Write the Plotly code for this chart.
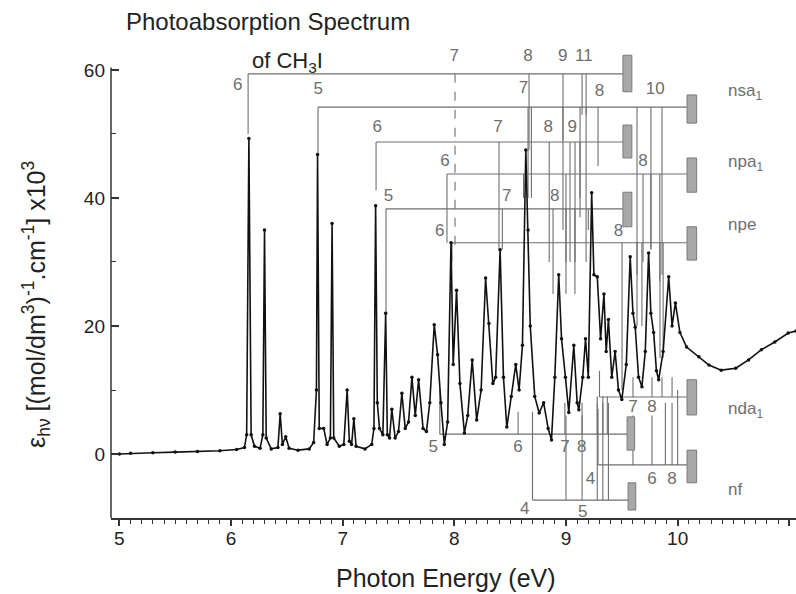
import plotly.graph_objects as go

# ---- absorption spectrum of CH3I (photon energy in eV, epsilon x 10^-3) ----
energy = [
    5.00, 5.10, 5.30, 5.50, 5.70, 5.90, 6.05, 6.12, 6.14, 6.16, 6.18, 6.21, 6.26,
    6.285, 6.30, 6.315, 6.36, 6.42, 6.44, 6.46, 6.49, 6.52, 6.60, 6.70, 6.74,
    6.765, 6.775, 6.79, 6.83, 6.86, 6.89, 6.905, 6.92, 6.97, 7.01, 7.04, 7.06,
    7.08, 7.10, 7.12, 7.20, 7.26, 7.28, 7.295, 7.31, 7.33, 7.36, 7.385, 7.40,
    7.42, 7.44, 7.47, 7.50, 7.53, 7.56, 7.59, 7.62, 7.65, 7.68, 7.72, 7.75,
    7.78, 7.82, 7.85, 7.88, 7.91, 7.94, 7.97, 7.99, 8.02, 8.05, 8.09, 8.12,
    8.16, 8.20, 8.24, 8.28, 8.31, 8.345, 8.37, 8.41, 8.44, 8.47, 8.51, 8.55,
    8.58, 8.61, 8.64, 8.66, 8.68, 8.72, 8.76, 8.80, 8.84, 8.87, 8.90, 8.935,
    8.96, 8.995, 9.025, 9.07, 9.10, 9.115, 9.15, 9.175, 9.20, 9.23, 9.25, 9.28,
    9.31, 9.34, 9.36, 9.38, 9.41, 9.44, 9.47, 9.50, 9.54, 9.575, 9.60, 9.62,
    9.65, 9.68, 9.71, 9.74, 9.76, 9.785, 9.81, 9.83, 9.87, 9.92, 9.95, 9.98,
    10.02, 10.08, 10.19, 10.28, 10.39, 10.52, 10.635, 10.75, 10.87, 10.99, 11.06,
]
epsilon = [
    0.0, 0.1, 0.2, 0.3, 0.4, 0.5, 0.7, 1.0, 3.0, 49.3, 3.0, 1.2, 0.9,
    3.0, 35.0, 2.5, 0.8, 1.0, 6.3, 1.5, 2.7, 0.9, 0.6, 0.8, 1.8,
    10.0, 46.8, 4.0, 4.0, 1.5, 2.5, 36.0, 2.5, 1.2, 1.5, 10.0, 2.0,
    1.5, 5.5, 1.2, 0.8, 1.5, 4.0, 38.8, 8.0, 4.0, 3.0, 22.0, 3.0,
    2.5, 7.0, 2.5, 3.5, 9.5, 4.0, 5.0, 12.0, 6.0, 11.6, 4.0, 3.5,
    8.0, 20.2, 15.5, 8.0, 1.5, 5.0, 33.0, 14.0, 25.6, 11.0, 3.3, 6.0,
    14.7, 5.3, 10.0, 27.5, 20.4, 11.0, 12.0, 31.9, 12.0, 4.2, 9.0, 14.0,
    10.0, 17.0, 47.5, 35.0, 20.0, 9.0, 6.4, 8.0, 4.0, 2.2, 12.0, 28.0,
    18.0, 12.0, 6.5, 17.0, 8.0, 6.9, 12.0, 18.0, 12.0, 40.8, 28.0, 27.7,
    18.0, 25.0, 16.0, 21.0, 12.0, 16.0, 10.0, 8.5, 14.0, 30.8, 22.0, 19.8,
    12.0, 10.5, 16.0, 31.4, 22.0, 19.0, 13.0, 11.6, 16.0, 27.7, 20.0, 23.6,
    19.0, 16.7, 15.2, 13.9, 13.1, 13.4, 14.7, 16.3, 17.5, 18.9, 19.2,
]

# ---- Rydberg series assignment ladders ----
# level: height of the bar; start/end: energy span; ticks: (energy, end of the drop line)
ladder_level = [59.4, 54.2, 48.75, 43.75, 38.3, 33.0, 3.1, 8.9, -7.2, -1.7]
ladder_start = [6.153, 6.779, 7.299, 7.934, 7.388, 7.979, 7.87, 9.30, 8.70, 9.287]
ladder_end = [9.51, 10.084, 9.51, 10.084, 9.51, 10.084, 9.547, 10.084, 9.556, 10.084]
ladder_ticks = [
    [(6.153, 50.0), (8.669, 47.5), (8.973, 49.0), (9.144, 53.0), (9.18, 53.0)],
    [(6.779, 47.0), (8.66, 40.0), (8.69, 40.0), (8.973, 35.0), (9.126, 37.0),
     (9.18, 30.0), (9.287, 45.0), (9.636, 28.0), (9.761, 32.0), (9.86, 28.0)],
    [(7.299, 41.2), (8.40, 32.0), (8.85, 30.0), (9.036, 30.0), (9.081, 30.0), (9.126, 40.0)],
    [(7.934, 33.0), (8.62, 40.0), (9.0, 30.0), (9.69, 30.0), (9.76, 32.0), (9.84, 27.0)],
    [(7.388, 22.0), (8.43, 32.0), (8.884, 25.0), (9.0, 25.0), (9.08, 25.0), (9.20, 35.0)],
    [(7.979, 30.0), (9.502, 10.0), (9.636, 20.0), (9.68, 20.0), (9.842, 15.0), (9.87, 15.0)],
    [(7.87, 10.0), (8.571, 6.6), (8.99, 8.0), (9.144, 8.0), (9.28, 9.0), (9.33, 9.0), (9.37, 9.0)],
    [(9.30, 13.0), (9.60, 12.0), (9.77, 12.0), (9.86, 12.0), (9.95, 12.0)],
    [(8.70, 6.6), (9.0, 6.0), (9.144, 6.0), (9.28, 8.0), (9.33, 8.0), (9.38, 8.0)],
    [(9.287, 7.0), (9.6, 6.0), (9.77, 6.0), (9.89, 8.0), (9.95, 8.0), (10.0, 10.0)],
]
dashed_drop = [(8.006, 59.4, 32.7)]
ladder_labels = [
    [("6", 6.06, 57.6), ("7", 8.0, 62.0), ("8", 8.66, 62.0), ("9", 8.97, 62.0), ("11", 9.16, 62.0)],
    [("5", 6.78, 56.9), ("7", 8.62, 57.0), ("8", 9.30, 56.6), ("10", 9.80, 56.9)],
    [("6", 7.31, 51.0), ("7", 8.39, 51.0), ("8", 8.84, 51.0), ("9", 9.055, 51.0)],
    [("6", 7.916, 45.6), ("8", 9.69, 45.6)],
    [("5", 7.41, 40.2), ("7", 8.47, 40.2), ("8", 8.90, 40.2)],
    [("6", 7.87, 34.7), ("8", 9.47, 34.7)],
    [("5", 7.81, 1.0), ("6", 8.57, 1.0), ("7", 8.99, 1.0), ("8", 9.14, 1.0)],
    [("7", 9.60, 7.2), ("8", 9.77, 7.2)],
    [("4", 8.63, -8.75), ("5", 9.15, -9.2)],
    [("4", 9.22, -4.1), ("6", 9.77, -4.1), ("8", 9.95, -4.1)],
]
# limit markers (energy span, epsilon span)
limit_boxes = [
    (9.51, 9.59, 56.6, 62.3), (10.084, 10.17, 51.7, 56.1),
    (9.51, 9.59, 46.25, 51.4), (10.084, 10.17, 40.9, 46.25),
    (9.51, 9.59, 35.5, 40.9), (10.084, 10.17, 30.3, 35.5),
    (9.547, 9.615, 0.6, 5.8), (10.084, 10.17, 6.1, 11.6),
    (9.556, 9.625, -8.75, -4.5), (10.084, 10.17, -4.5, 0.6),
]
series_names = ["nsa<sub>1</sub>", "npa<sub>1</sub>", "npe", "nda<sub>1</sub>", "nf"]
series_y = [56.6, 45.5, 35.8, 6.9, -5.6]

FONT = "Liberation Sans, Arial, sans-serif"
GREY = "#6e6e6e"
W, H = 796, 594
ML, MR, MT, MB = 111, 0, 44, 76


def paper_x(px):
    return (px - ML) / (W - ML - MR)


def paper_y(py):
    return (H - MB - py) / (H - MT - MB)


fig = go.Figure()

# ladder bars and drop lines
lx, ly = [], []
for lvl, x0, x1, ticks in zip(ladder_level, ladder_start, ladder_end, ladder_ticks):
    lx += [x0, x1, None]
    ly += [lvl, lvl, None]
    for tx, ty in ticks:
        lx += [tx, tx, None]
        ly += [lvl, ty, None]
fig.add_trace(go.Scatter(x=lx, y=ly, mode="lines", hoverinfo="skip",
                         line=dict(color=GREY, width=1.1), showlegend=False))
for tx, y0, y1 in dashed_drop:
    fig.add_trace(go.Scatter(x=[tx, tx], y=[y0, y1], mode="lines", hoverinfo="skip",
                             line=dict(color=GREY, width=1.1, dash="dash"),
                             showlegend=False))

# spectrum
fig.add_trace(go.Scatter(
    x=energy, y=epsilon, mode="lines+markers",
    line=dict(color="#111111", width=1.6),
    marker=dict(color="#111111", size=3.5),
    showlegend=False,
))

# ladder quantum-number labels
tx, ty, tt = [], [], []
for labs in ladder_labels:
    for t, x, y in labs:
        tt.append(t)
        tx.append(x)
        ty.append(y)
fig.add_trace(go.Scatter(x=tx, y=ty, text=tt, mode="text", cliponaxis=False,
                         textfont=dict(family=FONT, size=17, color=GREY),
                         hoverinfo="skip", showlegend=False))

for x0, x1, y0, y1 in limit_boxes:
    fig.add_shape(type="rect", xref="x", yref="y", x0=x0, x1=x1, y0=y0, y1=y1,
                  fillcolor="#a8a8a8", line=dict(color="#7a7a7a", width=1))

for name, y in zip(series_names, series_y):
    fig.add_annotation(x=10.43, y=y, xref="x", yref="y", text=name, showarrow=False,
                       xanchor="left", yanchor="middle",
                       font=dict(family=FONT, size=17, color=GREY))

# left axis line from -10 to 60
fig.add_shape(type="line", xref="paper", yref="y", x0=0, x1=0, y0=-10, y1=60.4,
              line=dict(color="#333333", width=1.5))

# titles
title_kw = dict(xref="paper", yref="paper", showarrow=False,
                xanchor="center", yanchor="middle")
fig.add_annotation(x=paper_x(268), y=paper_y(21), text="Photoabsorption Spectrum",
                   font=dict(family=FONT, size=24, color="#222222"), **title_kw)
fig.add_annotation(x=paper_x(287), y=paper_y(62), text="of CH<sub>3</sub>I",
                   font=dict(family=FONT, size=22, color="#222222"), **title_kw)
fig.add_annotation(x=paper_x(446), y=paper_y(578), text="Photon Energy (eV)",
                   font=dict(family=FONT, size=25, color="#222222"), **title_kw)
fig.add_annotation(x=paper_x(36), y=paper_y(305),
                   text="ε<sub>hν</sub> [(mol/dm<sup>3</sup>)<sup>-1</sup>.cm<sup>-1</sup>] x10<sup>3</sup>",
                   textangle=-90, font=dict(family=FONT, size=25, color="#222222"),
                   **title_kw)

fig.update_layout(
    width=W, height=H,
    margin=dict(l=ML, r=MR, t=MT, b=MB),
    paper_bgcolor="white", plot_bgcolor="white",
    font=dict(family=FONT, color="#222222"),
    xaxis=dict(
        range=[4.925, 11.06], showgrid=False, zeroline=False,
        showline=True, linecolor="#333333", linewidth=1.5,
        tickmode="linear", tick0=5, dtick=1, ticks="outside", ticklen=6,
        tickwidth=1.5, tickcolor="#333333", tickfont=dict(size=19),
        ticklabelstandoff=-4,
        minor=dict(dtick=0.1, tick0=5, ticks="outside", ticklen=4,
                   tickcolor="#333333", tickwidth=1),
    ),
    yaxis=dict(
        range=[-10, 64.06], showgrid=False, zeroline=False, showline=False,
        tickmode="linear", tick0=0, dtick=20, ticks="inside", ticklen=8,
        tickwidth=1.5, tickcolor="#333333", tickfont=dict(size=19),
        ticklabelstandoff=5,
        minor=dict(dtick=10, tick0=0, ticks="inside", ticklen=5,
                   tickcolor="#333333", tickwidth=1),
    ),
)

fig.write_html("out.html")
